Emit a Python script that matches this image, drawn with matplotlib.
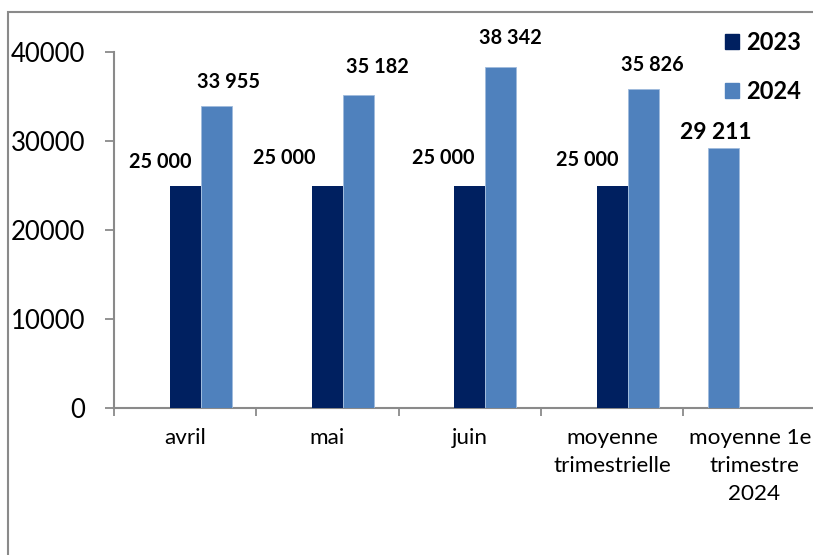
import matplotlib
matplotlib.use('Agg')
import matplotlib.pyplot as plt
import numpy as np
from matplotlib.patches import Rectangle, Patch

# ---- data ----
categories = ['avril', 'mai', 'juin', 'moyenne\ntrimestrielle', 'moyenne 1er\ntrimestre\n2024']
values_2023 = [25000, 25000, 25000, 25000, np.nan]
values_2024 = [33955, 35182, 38342, 35826, np.nan]
values_q1_2024 = [np.nan, np.nan, np.nan, np.nan, 29211]
series_names = ['2023', '2024']
y_ticks = [0, 10000, 20000, 30000, 40000]

# ---- style / layout ----
C2023 = '#002060'
C2024 = '#4F81BD'
GREY = '#8a8a8a'
FONT = 'Lato'
W, H, DPI = 813, 555, 100
PX = 72.0 / DPI  # px -> pt

# label offsets (px) relative to bar top centre
off_2023 = [(-25, 23.5), (-43, 27.5), (-27, 27.5), (-25, 25.5)]
off_2024 = [(12, 24), (18.5, 28), (10, 29), (9.5, 24)]
off_q1 = [(-8, 16)]

plt.rcParams['font.family'] = [FONT, 'DejaVu Sans']

fig = plt.figure(figsize=(W / DPI, H / DPI), dpi=DPI)
ax_left, ax_right = 114, 825.5
ax_top, ax_bot = 52, 408
ax = fig.add_axes([ax_left / W, 1 - ax_bot / H, (ax_right - ax_left) / W, (ax_bot - ax_top) / H])

x = np.arange(len(categories))
bw = 0.218

b23 = ax.bar(x, values_2023, bw, color=C2023, label=series_names[0], zorder=3)
b24 = ax.bar(x + bw, values_2024, bw, color=C2024, edgecolor='#9fbbdc', linewidth=0.6,
             label=series_names[1], zorder=3)
bq1 = ax.bar(x - bw, values_q1_2024, bw, color=C2024, edgecolor='#9fbbdc', linewidth=0.6, zorder=3)

def fmt(v):
    return f"{v:,.0f}".replace(',', ' ')

def put_labels(xs, vals, offs, size):
    k = 0
    for xi, v in zip(xs, vals):
        if np.isnan(v):
            continue
        dx, dy = offs[k]
        k += 1
        ax.annotate(fmt(v), (xi, v), xytext=(dx * PX, dy * PX), textcoords='offset points',
                    ha='center', va='center', fontsize=size, fontweight='bold',
                    color='black', annotation_clip=False, zorder=5)

put_labels(x, values_2023, off_2023, 14.3)
put_labels(x + bw, values_2024, off_2024, 14.3)
put_labels(x - bw, values_q1_2024, off_q1, 16.5)

ax.set_xlim(-0.5, len(categories) - 0.5)
ax.set_ylim(0, 40000)
ax.set_yticks(y_ticks)
ax.set_yticklabels([str(t) for t in y_ticks], fontsize=18.5)
ax.tick_params(axis='y', direction='out', length=9 * PX, width=1.3, color=GREY, pad=20 * PX)

ax.set_xticks(np.arange(len(categories) + 1) - 0.5)
ax.set_xticklabels([])
ax.tick_params(axis='x', which='major', direction='out', length=8 * PX, width=1.3, color=GREY)
ax.set_xticks(x, minor=True)
ax.set_xticklabels(categories, minor=True, fontsize=16.2, linespacing=1.5)
ax.tick_params(axis='x', which='minor', length=0, pad=20 * PX)

for s in ['top', 'right']:
    ax.spines[s].set_visible(False)
for s in ['left', 'bottom']:
    ax.spines[s].set_color(GREY)
    ax.spines[s].set_linewidth(1.5)

# legend
handles = [Patch(color=C2023), Patch(color=C2024)]
leg = fig.legend(handles, series_names, loc='upper left', bbox_to_anchor=(725 / W, 1 - 31 / H),
                 frameon=False, prop={'weight': 'bold', 'size': 17, 'family': FONT},
                 handlelength=0.6, handleheight=0.6, handletextpad=0.3, labelspacing=1.1,
                 borderpad=0, borderaxespad=0)

# outer chart frame (extends past the crop)
fig.patches.append(Rectangle((8 / W, -0.2), 1.5, 1.2 - 12 / H, transform=fig.transFigure,
                             fill=False, edgecolor=GREY, linewidth=1.5, clip_on=False))

fig.savefig('out.png', dpi=DPI)
